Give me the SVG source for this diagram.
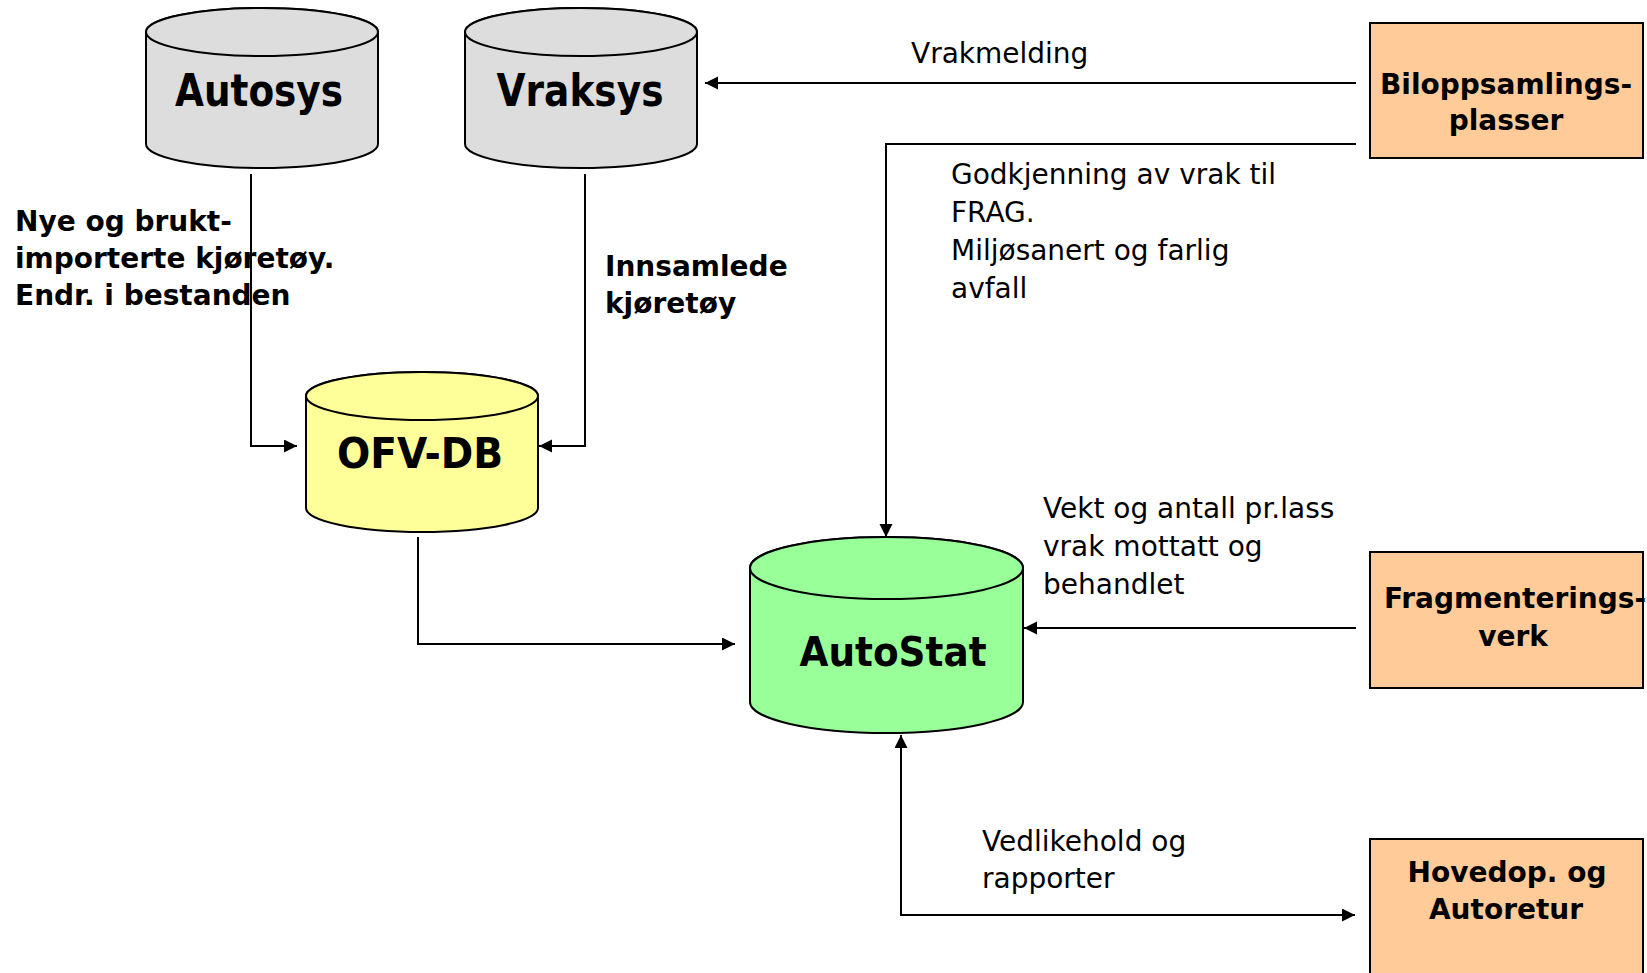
<svg xmlns="http://www.w3.org/2000/svg" width="1647" height="973" viewBox="0 0 1647 973">
<defs>
<style>
.cyl{stroke:#000;stroke-width:2}
.box{fill:#FFCC99;stroke:#000;stroke-width:2}
.big{font-family:"DejaVu Sans",Verdana,sans-serif;font-weight:bold;fill:#000;text-anchor:middle}
.bl{font-family:"DejaVu Sans",Verdana,sans-serif;font-weight:bold;font-size:28px;fill:#000}
.rl{font-family:"DejaVu Sans",Verdana,sans-serif;font-size:28px;fill:#000}
.mid{text-anchor:middle}
.con{fill:none;stroke:#000;stroke-width:2}
</style>
<marker id="ah" markerUnits="userSpaceOnUse" markerWidth="14" markerHeight="14" refX="13" refY="6.5" orient="auto-start-reverse" viewBox="0 0 14 14">
<path d="M0,0 L13,6.5 L0,13 z" fill="#000"/>
</marker>
</defs>
<rect width="1647" height="973" fill="#fff"/>

<g id="connectors">
<path class="con" d="M1356,83 H705" marker-end="url(#ah)"/>
<path class="con" d="M1356,144 H886 V537" marker-end="url(#ah)"/>
<path class="con" d="M251,174 V446 H297" marker-end="url(#ah)"/>
<path class="con" d="M585,174 V446 H539" marker-end="url(#ah)"/>
<path class="con" d="M418,537 V644 H735" marker-end="url(#ah)"/>
<path class="con" d="M1356,628 H1024" marker-end="url(#ah)"/>
<path class="con" d="M901,735 V915 H1355" marker-start="url(#ah)" marker-end="url(#ah)"/>
</g>

<g id="autosys">
<path class="cyl" fill="#DDDDDD" d="M146,32 V144 A116,24 0 0 0 378,144 V32 A116,24 0 0 0 146,32 Z"/>
<ellipse class="cyl" fill="#DDDDDD" cx="262" cy="32" rx="116" ry="24"/>
<text class="big" x="259" y="106" font-size="45" textLength="168" lengthAdjust="spacingAndGlyphs">Autosys</text>
</g>

<g id="vraksys">
<path class="cyl" fill="#DDDDDD" d="M465,32 V144 A116,24 0 0 0 697,144 V32 A116,24 0 0 0 465,32 Z"/>
<ellipse class="cyl" fill="#DDDDDD" cx="581" cy="32" rx="116" ry="24"/>
<text class="big" x="580" y="106" font-size="45" textLength="167" lengthAdjust="spacingAndGlyphs">Vraksys</text>
</g>

<g id="ofvdb">
<path class="cyl" fill="#FFFF99" d="M306,396 V508 A116,24 0 0 0 538,508 V396 A116,24 0 0 0 306,396 Z"/>
<ellipse class="cyl" fill="#FFFF99" cx="422" cy="396" rx="116" ry="24"/>
<text class="big" x="420" y="468" font-size="42" textLength="166" lengthAdjust="spacingAndGlyphs">OFV-DB</text>
</g>

<g id="autostat">
<path class="cyl" fill="#99FF99" d="M750,568 V702 A136.5,31 0 0 0 1023,702 V568 A136.5,31 0 0 0 750,568 Z"/>
<ellipse class="cyl" fill="#99FF99" cx="886.5" cy="568" rx="136.5" ry="31"/>
<text class="big" x="893" y="666" font-size="40" textLength="187" lengthAdjust="spacingAndGlyphs">AutoStat</text>
</g>

<g id="biloppsamlingsplasser">
<rect class="box" x="1370" y="23" width="273" height="135"/>
<text class="bl mid" x="1506" y="94">Biloppsamlings-</text>
<text class="bl mid" x="1506" y="130">plasser</text>
</g>

<g id="fragmenteringsverk">
<rect class="box" x="1370" y="552" width="273" height="136"/>
<text class="bl mid" x="1515" y="608">Fragmenterings-</text>
<text class="bl mid" x="1513" y="646">verk</text>
</g>

<g id="hovedop">
<rect class="box" x="1370" y="839" width="273" height="145"/>
<text class="bl mid" x="1507" y="882">Hovedop. og</text>
<text class="bl mid" x="1506" y="919">Autoretur</text>
</g>

<g id="labels">
<text class="bl" x="15" y="231">Nye og brukt-</text>
<text class="bl" x="15" y="268">importerte kjøretøy.</text>
<text class="bl" x="15" y="305">Endr. i bestanden</text>
<text class="bl" x="605" y="276">Innsamlede</text>
<text class="bl" x="605" y="313">kjøretøy</text>
<text class="rl" x="911" y="63">Vrakmelding</text>
<text class="rl" x="951" y="184">Godkjenning av vrak til</text>
<text class="rl" x="951" y="222">FRAG.</text>
<text class="rl" x="951" y="260">Miljøsanert og farlig</text>
<text class="rl" x="951" y="298">avfall</text>
<text class="rl" x="1043" y="518">Vekt og antall pr.lass</text>
<text class="rl" x="1043" y="556">vrak mottatt og</text>
<text class="rl" x="1043" y="594">behandlet</text>
<text class="rl" x="982" y="851">Vedlikehold og</text>
<text class="rl" x="982" y="888">rapporter</text>
</g>
</svg>
